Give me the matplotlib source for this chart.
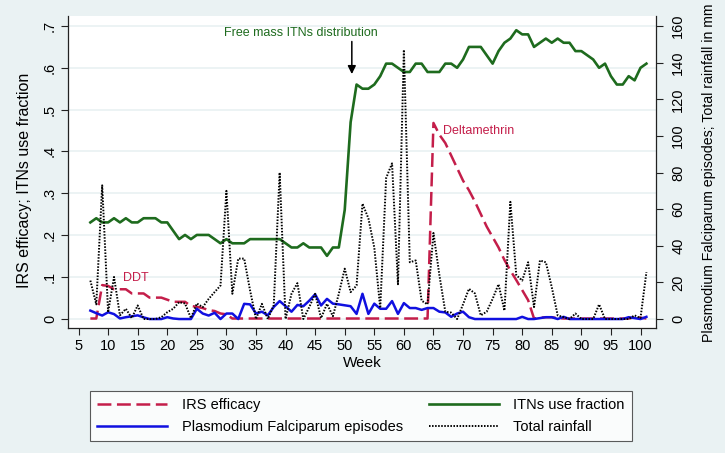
import numpy as np
import matplotlib
matplotlib.use("Agg")
import matplotlib.pyplot as plt
from matplotlib.ticker import FuncFormatter

plt.rcParams['font.family'] = ['Liberation Sans', 'DejaVu Sans']
plt.rcParams['lines.scale_dashes'] = False

# data
weeks = list(range(7, 102))

itn_use = [.23, .24, .23, .23, .24, .23, .24, .23, .23, .24,
           .24, .24, .23, .23, .21, .19, .20, .19, .20, .20,
           .20, .19, .18, .19, .18, .18, .18, .19, .19, .19,
           .19, .19, .19, .18, .17, .17, .18, .17, .17, .17,
           .15, .17, .17, .26, .47, .56, .55, .55, .56, .58,
           .61, .61, .60, .59, .59, .61, .61, .59, .59, .59,
           .61, .61, .60, .62, .65, .65, .65, .63, .61, .64,
           .66, .67, .69, .68, .68, .65, .66, .67, .66, .67,
           .66, .66, .64, .64, .63, .62, .60, .61, .58, .56,
           .56, .58, .57, .60, .61]

irs_eff = ([0, 0, .08, .078, .07, .07, .07, .06, .06, .06,
            .05, .05, .05, .045, .04, .04, .04, .03, .028, .025,
            .02, .018, .012, .01, 0]
           + [0] * 33
           + [.468, .44, .42, .39, .36, .33, .307, .28, .25, .22,
              .195, .17, .14, .115, .092, .068, .044, 0, .002, .003,
              .003, .001, 0, 0, 0, 0, 0, 0, 0, 0,
              0, 0, 0, 0, .003, .002, 0])

pf_episodes = [4.6, 3.2, 1.9, 3.7, 2.7, 0.3, 1.0, 1.5, 2.0, 0.9,
               0, 0, 0, 1.0, 0.3, 0, 0, 0, 5.6, 3.0,
               1.9, 3.4, 0, 3.0, 3.0, 0, 8.3, 8.0, 3.0, 4.0,
               2.0, 6.6, 9.8, 7.0, 4.0, 7.7, 7.0, 10.0, 13.5, 7.4,
               11.0, 8.4, 8.0, 7.5, 7.0, 2.8, 13.8, 2.8, 8.4, 5.6,
               5.6, 9.8, 2.8, 8.7, 6.0, 6.0, 5.0, 6.0, 6.0, 4.0,
               3.6, 1.2, 3.0, 4.0, 1.0, 0, 0, 0, 0, 0,
               0, 0, 0, 1.2, 0, 0, 0.5, 1.0, 1.0, 0,
               1.2, 0, 0, 0, 0, 0, 0, 0, 0, 0,
               0, 1.0, 0.5, 0, 1.2]

rainfall = [21, 8, 73, 3.7, 23, 2, 5.6, 0.5, 7.4, 0,
            0, 0, 1, 3.7, 5.6, 9.2, 8.5, 0.5, 8.5, 6.5,
            11, 14.7, 18.3, 70, 13.8, 33, 33, 15.6, 0, 8.3,
            0, 7.5, 80, 0, 13.8, 19.6, 0, 6.5, 13.8, 0.5,
            8.3, 1.5, 13.8, 27.5, 14.7, 18.3, 63, 55, 39, 6,
            77, 85, 19, 147, 31, 32, 10, 8, 47, 24,
            4, 3.5, 0, 8, 16.5, 14, 2, 4, 11, 19,
            4.6, 64, 24, 21, 31, 6.5, 32, 31, 17.4, 2,
            1, 0, 3, 0, 0, 0, 8, 0, 0, 0,
            0, 0, 2, 0.5, 25.6]

week_ticks = list(range(5, 101, 5))
left_ticks = [0, .1, .2, .3, .4, .5, .6, .7]
right_ticks = list(range(0, 161, 20))

bg = '#EAF2F3'
red = '#C41E4A'
green = '#1E6B1E'
blue = '#1010E0'

fig = plt.figure(figsize=(7.25, 4.53), dpi=100, facecolor=bg)
ax = fig.add_axes([68 / 725, 1 - 328 / 453, (656 - 68) / 725, (328 - 16) / 453])
ax.set_facecolor('white')
ax2 = ax.twinx()

l_irs, = ax.plot(weeks, irs_eff, color=red, lw=1.8, dashes=(10, 4),
                 label='IRS efficacy')
l_itn, = ax.plot(weeks, itn_use, color=green, lw=1.9,
                 label='ITNs use fraction')
l_pf, = ax2.plot(weeks, pf_episodes, color=blue, lw=1.8,
                 label='Plasmodium Falciparum episodes')
l_rain, = ax2.plot(weeks, rainfall, color='black', lw=1.4, dashes=(1.1, 1.1),
                   label='Total rainfall')

ax.set_xlim(3.22, 102.62)
ax.set_ylim(-0.0227, 0.724)
ax2.set_ylim(-4.9, 165.5)

ax.set_xticks(week_ticks)
ax.set_yticks(left_ticks)
ax.yaxis.set_major_formatter(FuncFormatter(lambda v, p: '0' if v == 0 else ('%.1f' % v).lstrip('0')))
ax2.set_yticks(right_ticks)

ax.grid(axis='y', color=bg, lw=1.3)
ax.set_axisbelow(True)

for a in (ax, ax2):
    a.spines['top'].set_visible(False)
    a.tick_params(direction='out', length=5, width=0.8, colors='#222222',
                  labelsize=10.5, labelcolor='black', pad=3)
ax2.tick_params(axis='y', pad=6)
ax.spines['right'].set_visible(False)
ax2.spines['left'].set_visible(False)
ax2.spines['bottom'].set_visible(False)
for s in ('left', 'bottom'):
    ax.spines[s].set_color('#222222')
    ax.spines[s].set_linewidth(0.9)
ax2.spines['right'].set_color('#222222')
ax2.spines['right'].set_linewidth(0.9)

for lab in ax.get_yticklabels():
    lab.set_rotation(90)
    lab.set_va('center')
for lab in ax2.get_yticklabels():
    lab.set_rotation(90)
    lab.set_va('center')

ax.set_xlabel('Week', fontsize=11, labelpad=2)
fig.text(25 / 725, 1 - 180 / 453, 'IRS efficacy; ITNs use fraction',
         rotation=90, ha='center', va='center', fontsize=11.5)
fig.text(709 / 725, 1 - 173 / 453,
         'Plasmodium Falciparum episodes; Total rainfall in mm',
         rotation=90, ha='center', va='center', fontsize=10.2)

ax.text(42.6, 0.683, 'Free mass ITNs distribution', color=green,
        ha='center', va='center', fontsize=9)
ax.annotate('', xy=(51.2, 0.585), xytext=(51.2, 0.663),
            arrowprops=dict(arrowstyle='-|>', color='black', lw=1.1,
                            mutation_scale=12, shrinkA=0, shrinkB=0))
ax.text(12.5, 0.097, 'DDT', color=red, ha='left', va='center', fontsize=9)
ax.text(66.6, 0.449, 'Deltamethrin', color=red, ha='left', va='center',
        fontsize=9)

leg = fig.legend([l_irs, l_pf, l_itn, l_rain],
                 [h.get_label() for h in (l_irs, l_pf, l_itn, l_rain)],
                 loc='lower left', bbox_to_anchor=(90 / 725, 12 / 453, 542 / 725, 56 / 453),
                 mode='expand', ncol=2, fontsize=10.5, frameon=True,
                 fancybox=False, edgecolor='#333333', handlelength=4.8,
                 borderaxespad=0, labelspacing=0.5, handletextpad=1.0,
                 borderpad=0.5)
leg.get_frame().set_linewidth(0.8)

fig.savefig('out.png', dpi=100, facecolor=bg)
